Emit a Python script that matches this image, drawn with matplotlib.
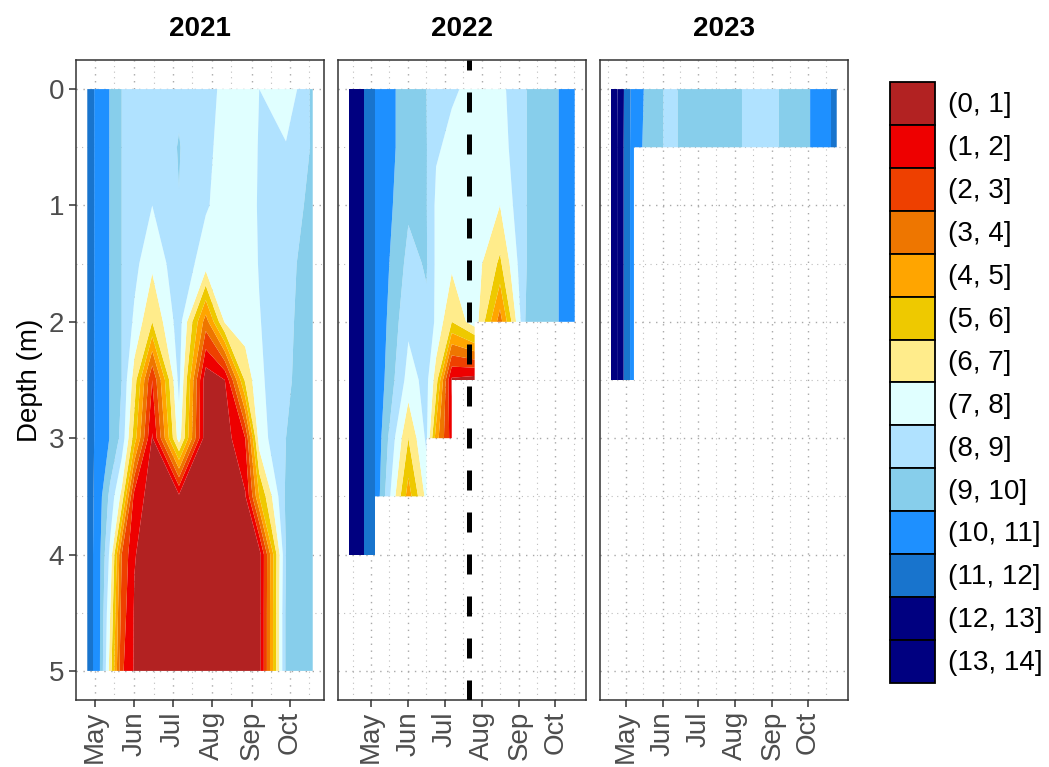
import numpy as np
import matplotlib
matplotlib.use("Agg")
import matplotlib.pyplot as plt
import matplotlib.dates as mdates
from matplotlib.patches import Patch
from datetime import datetime

plt.rcParams['font.family'] = ['Liberation Sans', 'DejaVu Sans']

# ---------------- data ----------------
depths = [0, 0.5, 1, 1.5, 2, 2.5, 3, 3.5, 4, 4.5, 5]
NA = None

# one list per sampling date, values from surface (0 m) to bottom (5 m)
dates_2021 = ["2021-04-25", "2021-05-04", "2021-05-13", "2021-05-22", "2021-06-01",
              "2021-06-15", "2021-07-06", "2021-07-27", "2021-08-11", "2021-08-27",
              "2021-09-07", "2021-09-28", "2021-10-19"]
do_2021 = [
    [11.6, 11.6, 11.6, 11.6, 11.6, 11.6, 11.6, 11.6, 11.6, 11.6, 11.6],
    [10.6, 10.6, 10.6, 10.6, 10.6, 10.6, 10.6, 10.5, 10.4, 10.4, 10.4],
    [9.95, 9.95, 9.95, 9.95, 9.95, 9.95, 9.95, 8.7, 7.7, 7.0, 6.5],
    [9.0, 9.0, 9.0, 9.0, 9.0, 9.0, 8.7, 6.7, 3.0, 2.6, 2.2],
    [8.5, 8.5, 8.4, 8.3, 7.8, 6.5, 5.5, 1.6, 1.05, 0.9, 0.9],
    [8.5, 8.4, 8.0, 7.2, 6.0, 2.0, 0.9, 0.5, 0.5, 0.5, 0.5],
    [8.85, 9.05, 8.98, 8.7, 8.5, 8.3, 7.5, 0.8, 0.5, 0.5, 0.5],
    [8.3, 8.2, 8.1, 7.5, 3.5, 0.3, 0.3, 0.3, 0.3, 0.3, 0.3],
    [7.8, 7.7, 7.6, 7.5, 7.1, 1.0, 0.5, 0.4, 0.4, 0.4, 0.4],
    [7.6, 7.6, 7.5, 7.5, 7.6, 6.2, 2.0, 0.9, 0.5, 0.5, 0.5],
    [8.0, 8.05, 8.1, 8.05, 7.95, 7.8, 7.5, 5.0, 0.5, 0.5, 0.5],
    [7.1, 8.1, 8.5, 8.6, 8.7, 8.8, 9.0, 9.2, 9.0, 9.2, 9.2],
    [9.25, 9.1, 9.25, 9.6, 9.7, 9.7, 9.7, 9.7, 9.7, 9.7, 9.7],
]

dates_2022 = ["2022-04-13", "2022-05-04", "2022-06-01", "2022-06-16", "2022-06-24",
              "2022-07-07", "2022-07-26", "2022-08-16", "2022-09-06", "2022-09-27",
              "2022-10-17"]
do_2022 = [
    [13.5, 13.5, 13.5, 13.5, 13.5, 13.5, 13.5, 13.5, 13.5, NA, NA],
    [11.0, 11.0, 11.0, 11.0, 11.0, 11.0, 11.0, 11.0, 11.0, NA, NA],
    [9.4, 9.4, 9.15, 8.7, 8.2, 7.6, 6.0, 4.5, NA, NA, NA],
    [9.0, 9.05, 9.05, 9.1, 8.8, 8.3, 8.2, 7.3, NA, NA, NA],
    [8.6, 8.1, 7.8, 7.8, 7.8, 6.5, 4.5, NA, NA, NA, NA],
    [8.1, 7.8, 7.7, 7.2, 6.0, 0.8, 1.5, NA, NA, NA, NA],
    [7.8, 7.6, 7.5, 7.5, 7.6, 0.5, NA, NA, NA, NA, NA],
    [7.7, 7.5, 7.0, 5.8, 3.5, NA, NA, NA, NA, NA, NA],
    [8.95, 8.95, 8.95, 8.95, 9.0, NA, NA, NA, NA, NA, NA],
    [9.8, 9.8, 9.8, 9.8, 9.8, NA, NA, NA, NA, NA, NA],
    [10.4, 10.4, 10.4, 10.4, 10.4, NA, NA, NA, NA, NA, NA],
]
event_2022 = "2022-07-21"

dates_2023 = ["2023-04-19", "2023-05-08", "2023-06-05", "2023-07-01", "2023-07-26",
              "2023-08-22", "2023-09-18", "2023-10-09", "2023-10-25"]
do_2023 = [
    [13.9, 13.9, 13.9, 13.9, 13.9, 13.9, NA, NA, NA, NA, NA],
    [10.5, 10.4, 10.4, 10.4, 10.4, 10.4, NA, NA, NA, NA, NA],
    [8.8, 8.8, NA, NA, NA, NA, NA, NA, NA, NA, NA],
    [9.4, 9.4, NA, NA, NA, NA, NA, NA, NA, NA, NA],
    [9.3, 9.3, NA, NA, NA, NA, NA, NA, NA, NA, NA],
    [8.6, 8.6, NA, NA, NA, NA, NA, NA, NA, NA, NA],
    [9.3, 9.3, NA, NA, NA, NA, NA, NA, NA, NA, NA],
    [10.3, 10.3, NA, NA, NA, NA, NA, NA, NA, NA, NA],
    [11.3, 11.3, NA, NA, NA, NA, NA, NA, NA, NA, NA],
]

years = ["2021", "2022", "2023"]
breaks = list(range(0, 15))
bin_labels = ["(%d, %d]" % (b, b + 1) for b in breaks[:-1]]
bin_colors = ["#B22222", "#EE0000", "#EE4000", "#EE7600", "#FFA500", "#EEC900",
              "#FFEC8B", "#E0FFFF", "#B0E2FF", "#87CEEB", "#1E90FF", "#1874CD",
              "#000080", "#000080"]

# ---------------- plot ----------------
fig = plt.figure(figsize=(10.49, 7.67), dpi=100)
W, H = 1049.0, 767.0
panel_x = [76, 338, 600]
panel_w = 248
top, bottom = 60, 700
fs = 20

all_dates = [dates_2021, dates_2022, dates_2023]
all_vals = [do_2021, do_2022, do_2023]
grey_txt = "#4D4D4D"

axes = []
for i in range(3):
    ax = fig.add_axes([panel_x[i] / W, 1 - bottom / H, panel_w / W, (bottom - top) / H])
    axes.append(ax)
    d = mdates.date2num([datetime.strptime(s, "%Y-%m-%d") for s in all_dates[i]])
    z = np.array([[np.nan if v is None else v for v in col] for col in all_vals[i]]).T
    z = np.ma.masked_invalid(z)
    ax.contourf(d, depths, z, levels=breaks, colors=bin_colors, corner_mask=False,
                antialiased=True, zorder=1)

    span = d.max() - d.min()
    ax.set_xlim(d.min() - 0.05 * span, d.max() + 0.05 * span)
    ax.set_ylim(5.25, -0.25)

    ax.xaxis.set_major_locator(mdates.MonthLocator(bymonth=[5, 6, 7, 8, 9, 10]))
    ax.xaxis.set_major_formatter(mdates.DateFormatter("%b"))
    ax.xaxis.set_minor_locator(mdates.MonthLocator(bymonthday=16))
    ax.set_yticks([0, 1, 2, 3, 4, 5])
    ax.set_yticks([0.5, 1.5, 2.5, 3.5, 4.5], minor=True)

    ax.set_axisbelow(True)
    ax.grid(which="major", color="#A8A8A8", linestyle=(0, (1, 4)), linewidth=1.0)
    ax.grid(which="minor", color="#BDBDBD", linestyle=(0, (1, 4)), linewidth=0.8)

    ax.tick_params(axis="both", which="major", length=5, width=1.1, color="#333333",
                   labelsize=fs, labelcolor=grey_txt)
    ax.tick_params(axis="both", which="minor", length=0)
    ax.tick_params(axis="x", labelrotation=90, pad=3)
    for s in ax.spines.values():
        s.set_color("#333333")
        s.set_linewidth(1.1)
    if i > 0:
        ax.tick_params(axis="y", labelleft=False, length=0)

    ax.set_title(years[i], fontsize=fs, fontweight="bold", pad=17)

# sampling event line in 2022
ev = mdates.date2num(datetime.strptime(event_2022, "%Y-%m-%d"))
axes[1].axvline(ev, color="black", linewidth=3.6, dashes=(4, 4.4), zorder=3)

axes[0].set_ylabel("Depth (m)", fontsize=fs, labelpad=4)

handles = [Patch(facecolor=c, edgecolor="black", linewidth=1.3) for c in bin_colors]
fig.legend(handles, bin_labels, loc="upper left", bbox_to_anchor=(890 / W, 1 - 82 / H),
           frameon=False, borderaxespad=0, borderpad=0, labelspacing=0,
           handlelength=1.62, handleheight=2.0, handletextpad=0.47, fontsize=fs)

fig.savefig("out.png", dpi=100)
